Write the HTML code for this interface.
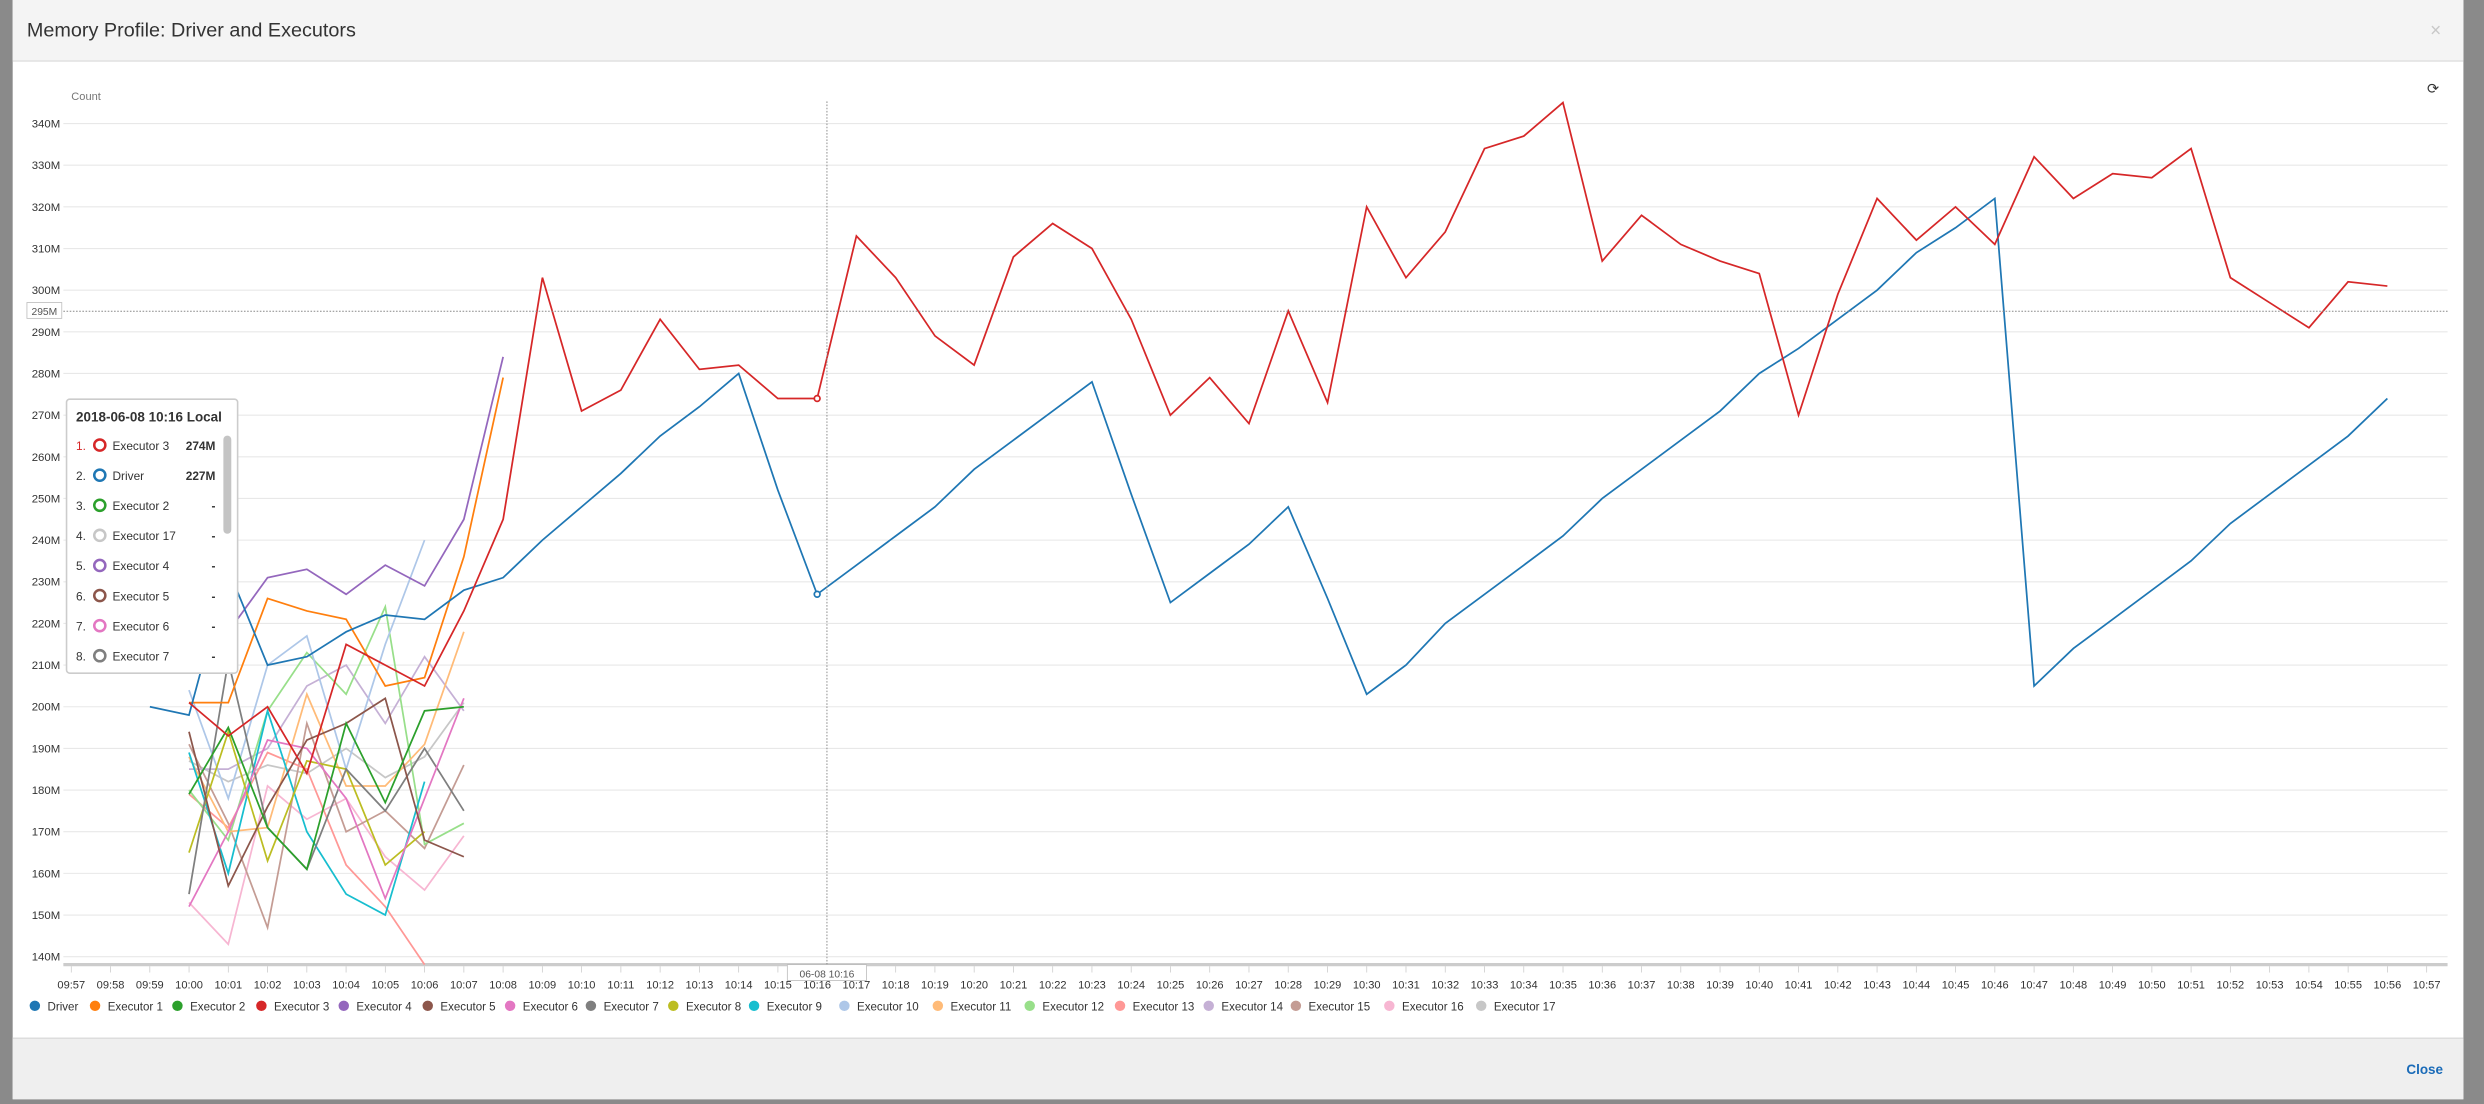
<!DOCTYPE html>
<html><head><meta charset="utf-8">
<style>
html,body{margin:0;padding:0;background:#fff;}
body{width:2484px;height:1104px;overflow:hidden;}
svg{display:block;font-family:"Liberation Sans",sans-serif;}
</style></head>
<body>
<svg id="s" width="2484" height="1104" viewBox="0 0 1568 697" preserveAspectRatio="none" xmlns="http://www.w3.org/2000/svg">
<rect x="0" y="0" width="1568" height="697" fill="#8a8a8a"/>
<rect x="8" y="0" width="1547" height="694" fill="#fff"/>
<rect x="8" y="0" width="1547" height="38" fill="#f4f4f4"/>
<line x1="8" y1="38.5" x2="1555" y2="38.5" stroke="#e0e0e0"/>
<text x="17" y="23" font-size="12.5" fill="#333">Memory Profile: Driver and Executors</text>
<text x="1534" y="23" font-size="12" fill="#c8c8c8">×</text>
<text x="1532" y="59" font-size="9" fill="#333">⟳</text>
<text x="45" y="63" font-size="7" fill="#777">Count</text>
<g id="grid"></g>
<g id="series" fill="none" stroke-width="1.1"></g>
<line x1="40" y1="196.5" x2="1545" y2="196.5" stroke="#888" stroke-width="0.6" stroke-dasharray="1,1"/>
<rect x="17" y="191" width="22" height="10" fill="#fff" stroke="#bbb" stroke-width="0.5"/>
<text x="28" y="199" font-size="6.5" fill="#555" text-anchor="middle">295M</text>
<line x1="522" y1="64" x2="522" y2="609" stroke="#888" stroke-width="0.6" stroke-dasharray="1,1"/>
<rect x="497" y="609" width="50" height="10" fill="#fff" stroke="#bbb" stroke-width="0.5"/>
<text x="522" y="617" font-size="6.5" fill="#555" text-anchor="middle">06-08 10:16</text>
<g id="legend"></g>
<rect x="42" y="252" width="108" height="173" fill="#fff" stroke="#ccc" stroke-width="1" rx="2"/>
<text x="48" y="266" font-size="8.5" font-weight="bold" fill="#333">2018-06-08 10:16 Local</text>
<rect x="141" y="275" width="5" height="62" rx="2.5" fill="#c4c4c4"/>
<g id="tip"></g>
<rect x="8" y="655" width="1547" height="39" fill="#efefef"/>
<line x1="8" y1="655.5" x2="1555" y2="655.5" stroke="#ddd"/>
<text x="1519" y="678" font-size="8.5" font-weight="bold" fill="#1a6bb8">Close</text>
</svg>
<script>
var NS="http://www.w3.org/2000/svg";
function el(p,t,a,txt){var e=document.createElementNS(NS,t);for(var k in a)e.setAttribute(k,a[k]);if(txt!=null)e.textContent=txt;document.getElementById(p).appendChild(e);return e;}
function X(i){return 45+i*24.78;}
function Y(v){return 78+(340-v)*2.63;}
for(var v=140;v<=340;v+=10){el('grid','line',{x1:40,x2:1545,y1:Y(v),y2:Y(v),stroke:'#e8e8e8','stroke-width':0.7});
el('grid','text',{x:38,y:Y(v)+2.5,'font-size':7.2,fill:'#333','text-anchor':'end'},v+'M');}
el('grid','line',{x1:40,x2:1545,y1:609,y2:609,stroke:'#ccc','stroke-width':2});
for(var i=0;i<=60;i++){var m=57+i,h=9+Math.floor(m/60);m=m%60;
var lab=(h<10?'0':'')+h+':'+(m<10?'0':'')+m;
el('grid','line',{x1:X(i),x2:X(i),y1:610,y2:614,stroke:'#ccc','stroke-width':0.5});
el('grid','text',{x:X(i),y:624,'font-size':7,fill:'#333','text-anchor':'middle'},lab);}
var C=['#1f77b4','#ff7f0e','#2ca02c','#d62728','#9467bd','#8c564b','#e377c2','#7f7f7f','#bcbd22','#17becf','#aec7e8','#ffbb78','#98df8a','#ff9896','#c5b0d5','#c49c94','#f7b6d2','#c7c7c7'];
var D={
1:[3,[201,201,226,223,221,205,207,236,279]],
2:[3,[179,195,171,161,196,177,199,200]],
4:[4,[218,231,233,227,234,229,245,284]],
5:[3,[194,157,176,192,196,202,168,164]],
6:[3,[152,170,192,190,178,154,178,202]],
7:[3,[155,211,171,161,185,175,190,175]],
8:[3,[165,194,163,187,185,162,170]],
9:[3,[189,160,199,170,155,150,182]],
10:[3,[204,178,210,217,185,215,240]],
11:[3,[188,170,171,203,181,181,191,218]],
12:[3,[180,168,199,213,203,224,167,172]],
13:[3,[179,171,189,185,162,152,136]],
14:[3,[185,185,190,205,210,196,212,199]],
15:[3,[191,172,147,196,170,175,166,186]],
16:[3,[153,143,181,173,178,164,156,169]],
17:[3,[187,182,186,184,190,183,188,201]],
0:[2,[200,198,233,210,212,218,222,221,228,231,240,248,256,265,272,280,252,227,234,241,248,257,264,271,278,251,225,232,239,248,226,203,210,220,227,234,241,250,257,264,271,280,286,293,300,309,315,322,205,214,221,228,235,244,251,258,265,274]],
3:[3,[201,193,200,184,215,210,205,223,245,303,271,276,293,281,282,274,274,313,303,289,282,308,316,310,293,270,279,268,295,273,320,303,314,334,337,345,307,318,311,307,304,270,299,322,312,320,311,332,322,328,327,334,303,297,291,302,301]]};
var order=[17,16,15,14,13,12,11,10,9,8,7,6,5,2,1,4,0,3];
order.forEach(function(k){var s=D[k],pts=s[1].map(function(v,j){return X(s[0]+j).toFixed(1)+','+Math.min(Y(v),609).toFixed(1);}).join(' ');
el('series','polyline',{points:pts,stroke:C[k]});});
el('series','circle',{cx:X(19),cy:Y(274),r:1.8,fill:'#fff',stroke:C[3]});
el('series','circle',{cx:X(19),cy:Y(227),r:1.8,fill:'#fff',stroke:C[0]});
var names=['Driver'];for(var i=1;i<=17;i++)names.push('Executor '+i);
var lx=[22,60,112,165,217,270,322,373,425,476,533,592,650,707,763,818,877,935];
names.forEach(function(n,i){el('legend','circle',{cx:lx[i],cy:635,r:3.3,fill:C[i]});
el('legend','text',{x:lx[i]+8,y:638,'font-size':7.3,fill:'#333'},n);});
var tr=[[3,'Executor 3','274M'],[0,'Driver','227M'],[2,'Executor 2','-'],[17,'Executor 17','-'],[4,'Executor 4','-'],[5,'Executor 5','-'],[6,'Executor 6','-'],[7,'Executor 7','-']];
tr.forEach(function(r,i){var y=281+i*19;
el('tip','text',{x:48,y:y+3,'font-size':7.5,fill:i==0?'#d62728':'#333'},(i+1)+'.');
el('tip','circle',{cx:63,cy:y,r:3.5,fill:'#fff',stroke:C[r[0]],'stroke-width':1.6});
el('tip','text',{x:71,y:y+3,'font-size':7.5,fill:'#333'},r[1]);
el('tip','text',{x:136,y:y+3,'font-size':7.5,fill:'#333','font-weight':'bold','text-anchor':'end'},r[2]);});
</script>
</body></html>
